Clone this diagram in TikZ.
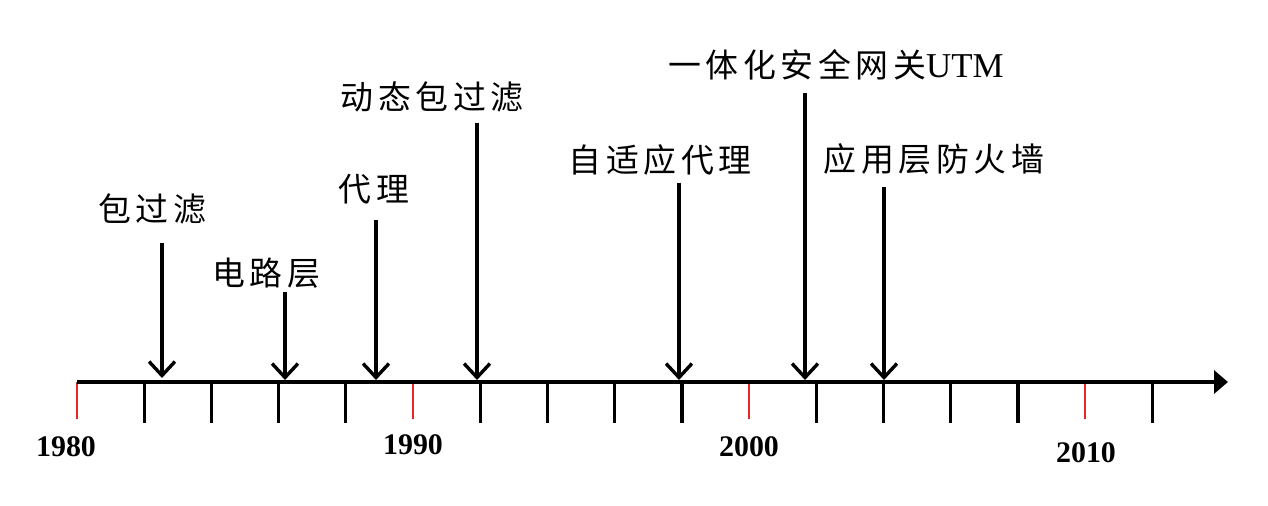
\documentclass[tikz,border=0pt]{standalone}
\usepackage{fontspec}
\setmainfont{Liberation Serif}
\newfontfamily\cjkfont[LetterSpace=14]{Noto Sans CJK SC}
\usetikzlibrary{arrows.meta,positioning}
\definecolor{TickRed}{RGB}{232,38,38}
\tikzset{
  event/.style={font=\cjkfont\fontsize{33}{37}\selectfont,inner sep=0pt},
  yearlabel/.style={font=\bfseries\fontsize{30}{34}\selectfont,inner sep=0pt},
  minortick/.style={line width=3.4pt,black},
  majortick/.style={line width=2.8pt,TickRed},
  axis/.style={-{Triangle[length=14pt,width=23pt]},line width=3.6pt},
  pointer/.style={-{Straight Barb[length=14pt,width=26pt,line width=3.4pt]},line width=3.4pt}
}

\begin{document}
\begin{tikzpicture}[x=1bp,y=-1bp]
  \useasboundingbox (0,0) rectangle (1268,506);
  % time axis
  \coordinate (origin) at (77,382);
  \coordinate (axisend) at (1228,382);
  \foreach \yr in {2,4,6,8,12,14,16,18,22,24,26,28,32}
    \draw[minortick] (77+33.6*\yr,382) -- (77+33.6*\yr,423);
  \foreach \yr in {0,10,20,30}
    \draw[majortick] (77+33.6*\yr,382) -- (77+33.6*\yr,419);
  \draw[axis] (origin) -- (axisend);
  % years
  \node[yearlabel] (y1980) at (66,447) {1980};
  \node[yearlabel] (y1990) at (413,445) {1990};
  \node[yearlabel] (y2000) at (749,447) {2000};
  \node[yearlabel] (y2010) at (1086,453) {2010};
  % events
  \node[event] (pf) at (152,209) {包过滤};
  \node[event] (cg) at (266,273) {电路层};
  \node[event] (px) at (374,189) {代理};
  \node[event] (dpf) at (432,97) {动态包过滤};
  \node[event] (ap) at (660,160) {自适应代理};
  \node[event] (utm) at (836,65) {一体化安全网关{\rmfamily\fontsize{35}{39}\selectfont UTM}};
  \node[event] (waf) at (934,159) {应用层防火墙};
  % pointers
  \coordinate (pf-top) at (162,243);   \coordinate (pf-tip) at (162,378);
  \coordinate (cg-top) at (285,292);   \coordinate (cg-tip) at (285,380);
  \coordinate (px-top) at (376,220);   \coordinate (px-tip) at (376,380);
  \coordinate (dpf-top) at (477,123);  \coordinate (dpf-tip) at (477,380);
  \coordinate (ap-top) at (679,183);   \coordinate (ap-tip) at (679,380);
  \coordinate (utm-top) at (805,93);   \coordinate (utm-tip) at (805,380);
  \coordinate (waf-top) at (884,187);  \coordinate (waf-tip) at (884,380);
  \foreach \ev in {pf,cg,px,dpf,ap,utm,waf}
    \draw[pointer] (\ev-top) -- (\ev-tip);
\end{tikzpicture}
\end{document}
